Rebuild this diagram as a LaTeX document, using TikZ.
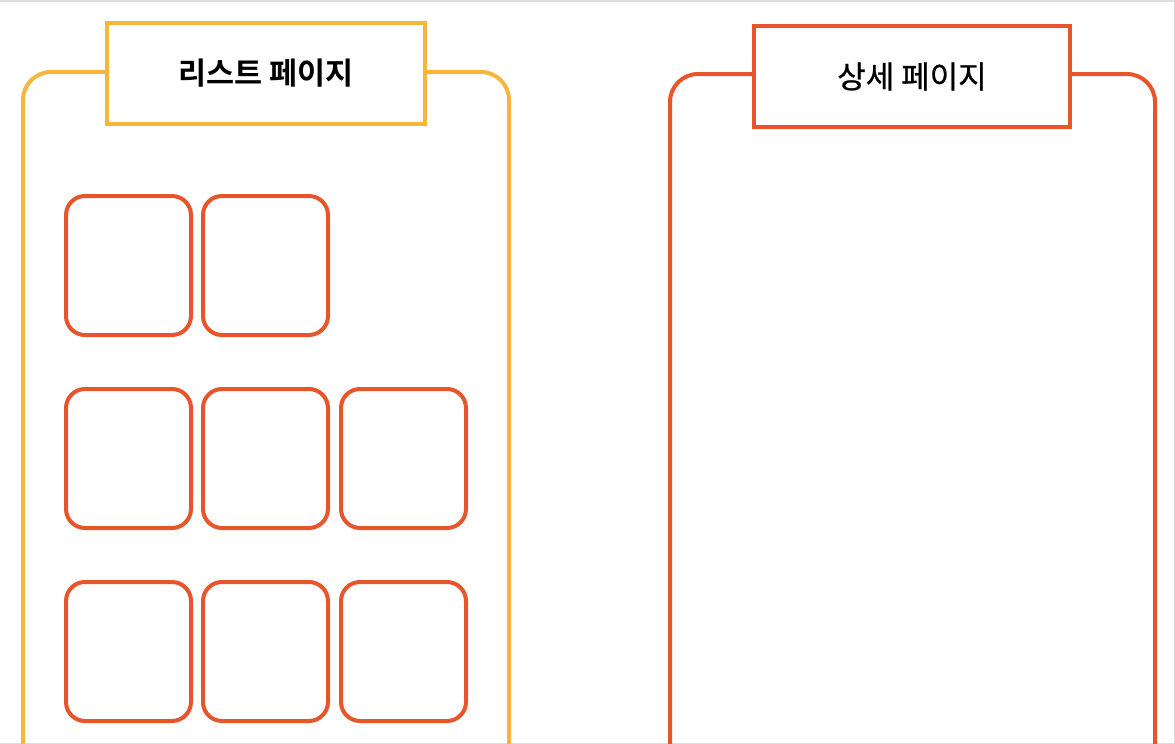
\documentclass[tikz,border=0pt]{standalone}
\usepackage{fontspec}
\newfontfamily\krfont{Noto Sans CJK KR}[FakeBold=0.8]
\newfontfamily\krbold{Noto Sans CJK KR}[BoldFont={Noto Sans CJK KR Bold}]
\definecolor{ylw}{HTML}{F6B63E}
\definecolor{org}{HTML}{E9552B}
\definecolor{frame}{HTML}{DDDDDD}
\begin{document}
\begin{tikzpicture}[x=1pt,y=-1pt,
  cont/.style={line width=4pt,rounded corners=28pt},
  title/.style={draw,line width=4pt,fill=white,inner sep=0pt},
  card/.style={draw=org,line width=4pt,rounded corners=19pt}]
\useasboundingbox (0,0) rectangle (1175,744);
\begin{scope}
\clip (0,0) rectangle (1175,744);
\fill[white] (0,0) rectangle (1175,744);
\draw[frame,line width=1.5pt] (0,0.75) -- (1174.25,0.75) -- (1174.25,743.25) -- (0,743.25);
% left container
\draw[cont,draw=ylw] (23,760) -- (23,72) -- (509,72) -- (509,760);
\node[title,draw=ylw,minimum width=318pt,minimum height=101pt,font=\krbold\bfseries\fontsize{30.5}{36}\selectfont] (lt) at (266,73.5) {리스트 페이지};
% right container
\draw[cont,draw=org] (670,760) -- (670,74) -- (1155,74) -- (1155,760);
\node[title,draw=org,minimum width=316pt,minimum height=101pt,font=\krfont\fontsize{31}{36}\selectfont] (rt) at (912,76.5) {상세 페이지};
% cards
\foreach \r/\y in {1/196,2/389,3/582}{
  \foreach \c/\x in {1/66,2/203,3/341}{
    \ifnum\r=1 \ifnum\c=3 \else
      \draw[card] (\x,\y) rectangle ++(125,139);
    \fi\else
      \draw[card] (\x,\y) rectangle ++(125,139);
    \fi
  }
}
\end{scope}
\end{tikzpicture}
\end{document}
